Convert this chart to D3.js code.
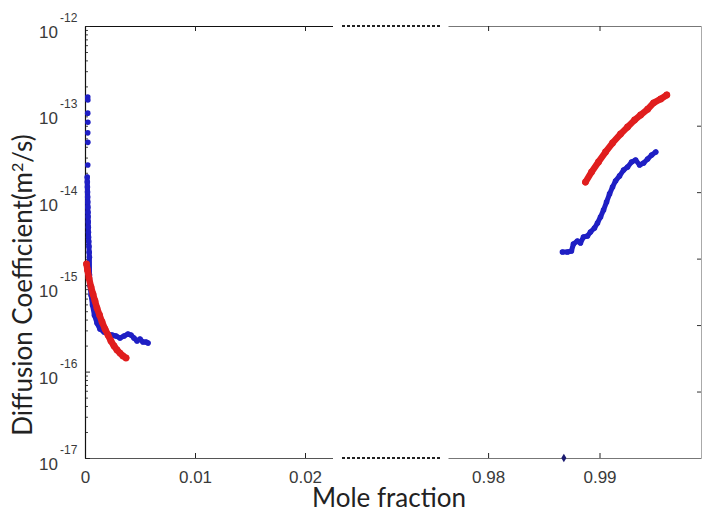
<!DOCTYPE html>
<html>
<head>
<meta charset="utf-8">
<script src="https://cdn.jsdelivr.net/npm/d3@7/dist/d3.min.js"></script>
<style>
  html, body { margin: 0; padding: 0; background: #fff; }
  svg { display: block; }
</style>
</head>
<body>
<svg id="chart" width="704" height="516"></svg>
<script>
// Diffusion coefficient vs. mole fraction (broken x axis, log y axis)

// x-axis tick labels for the two segments
const xTicksLow = [0, 0.01, 0.02];
const xTicksHigh = [0.98, 0.99];
// y-axis decades
const yDecades = [1e-12, 1e-13, 1e-14, 1e-15, 1e-16, 1e-17];
const yExponents = ["-12", "-13", "-14", "-15", "-16", "-17"];

// blue series, dilute end: isolated early points
const blueLowSparseX = [0.00025, 0.00026, 0.00025, 0.00026, 0.00025, 0.00026, 0.00025];
const blueLowSparseD = [1.51e-13, 1.39e-13, 9.8e-14, 7.7e-14, 5.8e-14, 4.5e-14, 2.46e-14];

// blue series, dilute end: continuous part
const blueLowX = [0.00020, 0.00021, 0.00022, 0.00023, 0.00024, 0.00025, 0.00026, 0.00027, 0.00028,
  0.00029, 0.00030, 0.00031, 0.00032, 0.00034, 0.00036, 0.00038, 0.00040, 0.00041,
  0.00045, 0.00055, 0.00068, 0.00086, 0.00109, 0.00136, 0.00173, 0.00209, 0.00245,
  0.00282, 0.00318, 0.00355, 0.00391, 0.00418, 0.00445, 0.00473, 0.00500, 0.00527,
  0.00555, 0.00573];
const blueLowD = [1.79e-14, 1.56e-14, 1.37e-14, 1.20e-14, 1.05e-14, 9.2e-15, 8.0e-15, 7.0e-15, 6.2e-15,
  5.4e-15, 4.7e-15, 4.1e-15, 3.6e-15, 3.2e-15, 2.8e-15, 2.4e-15, 2.1e-15, 1.31e-15,
  1.00e-15, 7.7e-16, 5.9e-16, 4.5e-16, 3.65e-16, 3.11e-16, 2.87e-16, 2.72e-16, 2.65e-16,
  2.58e-16, 2.45e-16, 2.58e-16, 2.72e-16, 2.65e-16, 2.45e-16, 2.26e-16, 2.38e-16, 2.20e-16,
  2.20e-16, 2.14e-16];

// red series, dilute end
const redLowX = [0.00014, 0.00023, 0.00036, 0.00055, 0.00073, 0.00091, 0.00109, 0.00132, 0.00155,
  0.00182, 0.00209, 0.00236, 0.00264, 0.00291, 0.00318, 0.00345, 0.00373];
const redLowD = [1.76e-15, 1.50e-15, 1.21e-15, 9.5e-16, 7.9e-16, 6.56e-16, 5.44e-16, 4.52e-16, 3.75e-16,
  3.11e-16, 2.65e-16, 2.26e-16, 1.98e-16, 1.78e-16, 1.64e-16, 1.52e-16, 1.44e-16];

// red series, concentrated end
const redHighX = [0.98874, 0.98928, 0.98991, 0.99054, 0.99117, 0.99189, 0.99252, 0.99315, 0.99369,
  0.99432, 0.99486, 0.99550, 0.99604];
const redHighD = [1.56e-14, 2.04e-14, 2.67e-14, 3.48e-14, 4.43e-14, 5.62e-14, 6.78e-14, 8.17e-14, 9.33e-14,
  1.09e-13, 1.29e-13, 1.43e-13, 1.59e-13];

// blue series, concentrated end
const blueHighX = [0.98667, 0.98712, 0.98748, 0.98766, 0.98802, 0.98829, 0.98856, 0.98892, 0.98919,
  0.98955, 0.98982, 0.99009, 0.99036, 0.99063, 0.99090, 0.99117, 0.99144, 0.99180, 0.99216,
  0.99252, 0.99288, 0.99324, 0.99360, 0.99396, 0.99432, 0.99468, 0.99505];
const blueHighD = [2.42e-15, 2.42e-15, 2.49e-15, 3.00e-15, 3.25e-15, 3.08e-15, 3.61e-15, 3.71e-15, 4.13e-15,
  4.59e-15, 5.25e-15, 6.16e-15, 7.41e-15, 9.18e-15, 1.14e-14, 1.37e-14, 1.61e-14, 1.84e-14, 2.15e-14,
  2.33e-14, 2.67e-14, 2.81e-14, 2.46e-14, 2.60e-14, 2.89e-14, 3.21e-14, 3.48e-14];

// single blue point on the lower limit
const blueLoneX = [0.98680];
const blueLoneD = [1e-17];

const BLUE = "#1f1fc4";
const RED = "#e01e1e";
const TEXT = "#3a3a3a";
const LABEL_FONT = "'Liberation Sans', Arial, sans-serif";
const TITLE_FONT = "Lato, 'Open Sans', sans-serif";

const svg = d3.select("#chart");

const plotTop = 26, plotBottom = 458, plotLeft = 85, plotRight = 701;
const y = d3.scaleLog().domain([1e-17, 1e-12]).range([plotBottom, plotTop]);
const xLow = d3.scaleLinear().domain([0, 0.0225]).range([plotLeft, 332.5]);
const xHigh = d3.scaleLinear().domain([0.97640, 0.99911]).range([448, plotRight]);

const zip = (xs, ys) => xs.map((v, i) => [v, ys[i]]);

// ---- frame and axes ----
const axisG = svg.append("g");

function styleAxis(g, color) {
  g.select(".domain").attr("stroke", color).attr("stroke-width", 1.2);
  g.selectAll(".tick line").attr("stroke", "#222").attr("stroke-width", 1);
}

// bottom axis, low segment
const bl = axisG.append("g").attr("transform", `translate(0,${plotBottom})`)
  .call(d3.axisBottom(xLow).tickValues(xTicksLow).tickSizeInner(-5).tickSizeOuter(0)
    .tickPadding(13).tickFormat(d3.format("")));
styleAxis(bl, "#555");
// bottom axis, high segment
const bh = axisG.append("g").attr("transform", `translate(0,${plotBottom})`)
  .call(d3.axisBottom(xHigh).tickValues(xTicksHigh).tickSizeInner(-5).tickSizeOuter(0)
    .tickPadding(13).tickFormat(d3.format("")));
styleAxis(bh, "#777");
[bl, bh].forEach(g => {
  g.attr("font-size", null).attr("font-family", null);
  g.selectAll(".tick text")
    .style("font-size", "17px").style("font-family", LABEL_FONT).attr("fill", TEXT);
});

// top axis, both segments
const tl = axisG.append("g").attr("transform", `translate(0,${plotTop})`)
  .call(d3.axisTop(xLow).tickValues(xTicksLow.slice(1)).tickSizeInner(-5).tickSizeOuter(0).tickFormat(""));
styleAxis(tl, "#111");
const th = axisG.append("g").attr("transform", `translate(0,${plotTop})`)
  .call(d3.axisTop(xHigh).tickValues(xTicksHigh).tickSizeInner(-5).tickSizeOuter(0).tickFormat(""));
styleAxis(th, "#777");

// dotted break segments between the two x ranges
[plotTop, plotBottom].forEach(yy => {
  axisG.append("line")
    .attr("x1", 342).attr("x2", 441).attr("y1", yy).attr("y2", yy)
    .attr("stroke", "#222").attr("stroke-width", 2)
    .attr("stroke-dasharray", "3,2");
});

// left axis: decades and minor ticks
const minor = [];
yDecades.slice(1).forEach(d => { for (let k = 2; k <= 9; k++) minor.push(d * k); });
const lm = axisG.append("g").attr("transform", `translate(${plotLeft},0)`)
  .call(d3.axisLeft(y).tickValues(minor).tickSizeInner(-3).tickSizeOuter(0).tickFormat(""));
lm.select(".domain").remove();
lm.selectAll(".tick line").attr("stroke", "#444");
const la = axisG.append("g").attr("transform", `translate(${plotLeft},0)`)
  .call(d3.axisLeft(y).tickValues(yDecades).tickSizeInner(-5).tickSizeOuter(0).tickFormat(""));
styleAxis(la, "#111");

// decade labels as 10 with superscript exponent
const lab = axisG.append("g");
yDecades.forEach((d, i) => {
  lab.append("text")
    .attr("x", 58).attr("y", y(d) + 12)
    .attr("text-anchor", "end")
    .attr("font-family", LABEL_FONT)
    .attr("font-size", 17).attr("fill", TEXT)
    .text("10");
  lab.append("text")
    .attr("x", 60).attr("y", y(d) - 4)
    .attr("font-family", LABEL_FONT)
    .attr("font-size", 12).attr("fill", TEXT)
    .text(yExponents[i]);
});

// right axis: faint frame line with inward ticks
const yRight = d3.scaleLinear().domain([0, 6.5]).range([plotBottom, plotTop]);
const ra = axisG.append("g").attr("transform", `translate(${plotRight},0)`)
  .call(d3.axisRight(yRight).tickValues([1, 2, 3, 4, 5]).tickSizeInner(-4).tickSizeOuter(0).tickFormat(""));
ra.select(".domain").attr("stroke", "#aaa").attr("stroke-width", 1);
ra.selectAll(".tick line").attr("stroke", "#333");

// ---- data ----
const plot = svg.append("g");
const lineLow = d3.line().x(d => xLow(d[0])).y(d => y(d[1]));
const lineHigh = d3.line().x(d => xHigh(d[0])).y(d => y(d[1]));

function drawSeries(data, sx, line, color, width, r) {
  plot.append("path").datum(data)
    .attr("d", line).attr("fill", "none")
    .attr("stroke", color).attr("stroke-width", width)
    .attr("stroke-linejoin", "round").attr("stroke-linecap", "round");
  plot.append("g").selectAll("circle").data(data).join("circle")
    .attr("cx", d => sx(d[0])).attr("cy", d => y(d[1])).attr("r", r)
    .attr("fill", color);
}

drawSeries(zip(blueLowX, blueLowD), xLow, lineLow, BLUE, 5, 2.8);
drawSeries(zip(blueHighX, blueHighD), xHigh, lineHigh, BLUE, 5, 2.8);
drawSeries(zip(redLowX, redLowD), xLow, lineLow, RED, 6.5, 3.4);
drawSeries(zip(redHighX, redHighD), xHigh, lineHigh, RED, 6.5, 3.4);

// isolated blue points near the dilute limit
plot.append("g").selectAll("circle").data(zip(blueLowSparseX, blueLowSparseD)).join("circle")
  .attr("cx", d => xLow(d[0])).attr("cy", d => y(d[1])).attr("r", 2.8)
  .attr("fill", BLUE);

// lone point on the lower limit (diamond)
plot.append("g").selectAll("path").data(zip(blueLoneX, blueLoneD)).join("path")
  .attr("transform", d => `translate(${xHigh(d[0])},${y(d[1])})`)
  .attr("d", d3.symbol(d3.symbolDiamond, 22))
  .attr("fill", "#1a1a70");

// ---- axis titles ----
svg.append("text")
  .attr("x", 389).attr("y", 507)
  .attr("text-anchor", "middle")
  .attr("font-family", TITLE_FONT)
  .attr("font-size", 26).attr("fill", "#222")
  .text("Mole fraction");

const yt = svg.append("text")
  .attr("transform", "translate(32,285) rotate(-90)")
  .attr("text-anchor", "middle")
  .attr("font-family", TITLE_FONT)
  .attr("font-size", 26).attr("fill", "#222");
yt.append("tspan").text("Diffusion Coefficient(m");
yt.append("tspan").attr("dy", -9).attr("font-size", 16).text("2");
yt.append("tspan").attr("dy", 9).text("/s)");
</script>
</body>
</html>
